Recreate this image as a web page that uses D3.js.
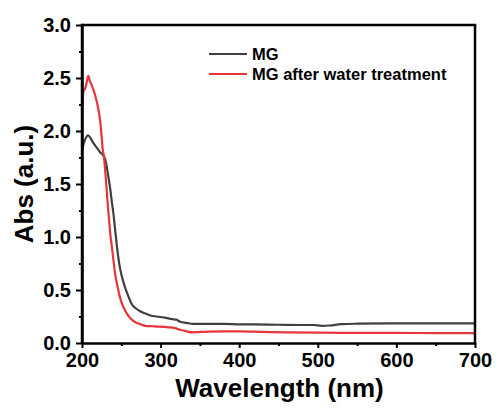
<!DOCTYPE html>
<html><head><meta charset="utf-8">
<script src="https://cdn.jsdelivr.net/npm/d3@7"></script>
<style>
html,body{margin:0;padding:0;background:#fff;}
svg text{font-family:"Liberation Sans",Arial,Helvetica,sans-serif;font-weight:bold;fill:#000;}
</style></head>
<body><svg id="chart" width="498" height="408"></svg>
<script>
const seriesNames = ["MG", "MG after water treatment"];
const seriesColors = ["#404040", "#e8343b"];
const wavelengthMG = [200,203,206,208,211,215,219,223,227,230,232,234,236,238,240,242,244,246,248,251,255,259,263,268,274,280,287,295,305,315,320,325,333,341,360,380,400,420,450,480,495,505,515,530,550,600,650,700];
const absMG = [1.82,1.90,1.95,1.96,1.93,1.88,1.84,1.80,1.77,1.72,1.64,1.55,1.45,1.33,1.22,1.08,0.94,0.82,0.72,0.62,0.52,0.44,0.37,0.33,0.30,0.28,0.26,0.25,0.24,0.225,0.22,0.20,0.19,0.18,0.18,0.18,0.176,0.175,0.172,0.17,0.17,0.162,0.165,0.178,0.182,0.185,0.186,0.186];
const wavelengthWater = [200,202,204,206,208,210,212,214,217,219,221,223,225,226,228,230,232,234,236,238,240,242,245,248,252,257,262,267,275,282,290,299,310,318,325,333,342,360,380,400,430,460,500,550,600,650,700];
const absWater = [2.20,2.38,2.40,2.46,2.52,2.47,2.44,2.40,2.33,2.27,2.20,2.10,1.95,1.85,1.75,1.58,1.38,1.20,1.03,0.91,0.78,0.66,0.54,0.44,0.35,0.28,0.23,0.20,0.175,0.16,0.158,0.155,0.148,0.14,0.125,0.11,0.10,0.108,0.11,0.11,0.105,0.10,0.097,0.096,0.095,0.094,0.093];
const xTicks = [200,300,400,500,600,700];
const xMinorTicks = [250,350,450,550,650];
const yTicks = [0,0.5,1.0,1.5,2.0,2.5,3.0];
const yMinorTicks = [0.25,0.75,1.25,1.75,2.25,2.75];
const xLabel = "Wavelength (nm)";
const yLabel = "Abs (a.u.)";

const svg = d3.select("#chart");
const L = 82, R = 475, T = 25, B = 343;
const x = d3.scaleLinear().domain([200,700]).range([L,R]);
const y = d3.scaleLinear().domain([0,3]).range([B,T]);

const series = [
  {name: seriesNames[0], color: seriesColors[0], pts: wavelengthMG.map((w,i)=>[w,absMG[i]])},
  {name: seriesNames[1], color: seriesColors[1], pts: wavelengthWater.map((w,i)=>[w,absWater[i]])}
];
const line = d3.line().x(d=>x(d[0])).y(d=>y(d[1])).curve(d3.curveMonotoneX);
series.forEach(s=>{
  svg.append("path").attr("d", line(s.pts)).attr("fill","none")
    .attr("stroke", s.color).attr("stroke-width", 2.2).attr("stroke-linejoin","round");
});

// minor ticks
svg.append("g").attr("transform",`translate(0,${B})`)
  .call(d3.axisBottom(x).tickValues(xMinorTicks).tickSize(3).tickFormat(""))
  .call(g=>g.select(".domain").remove())
  .call(g=>g.selectAll("line").attr("stroke","#000").attr("stroke-width",2));
svg.append("g").attr("transform",`translate(${L},0)`)
  .call(d3.axisLeft(y).tickValues(yMinorTicks).tickSize(3).tickFormat(""))
  .call(g=>g.select(".domain").remove())
  .call(g=>g.selectAll("line").attr("stroke","#000").attr("stroke-width",2));

// major axes
const xa = svg.append("g").attr("transform",`translate(0,${B})`)
  .call(d3.axisBottom(x).tickValues(xTicks).tickSize(5).tickPadding(5).tickSizeOuter(0).tickFormat(d3.format("d")));
const ya = svg.append("g").attr("transform",`translate(${L},0)`)
  .call(d3.axisLeft(y).tickValues(yTicks).tickSize(6).tickPadding(5).tickSizeOuter(0).tickFormat(d3.format(".1f")));
[xa,ya].forEach(a=>{
  a.selectAll("line").attr("stroke","#000").attr("stroke-width",2);
  a.select(".domain").attr("stroke","#000").attr("stroke-width",2.5);
  a.selectAll("text").attr("font-size",20).attr("fill","#000");
});

// frame top/right
svg.append("line").attr("x1",L).attr("x2",R+1.25).attr("y1",T).attr("y2",T).attr("stroke","#000").attr("stroke-width",2.5);
svg.append("line").attr("x1",R).attr("x2",R).attr("y1",T).attr("y2",B+1.25).attr("stroke","#000").attr("stroke-width",2.5);
svg.append("line").attr("x1",L).attr("x2",L).attr("y1",T-1.25).attr("y2",B+1.25).attr("stroke","#000").attr("stroke-width",2.5);

// axis titles
svg.append("text").attr("x",(L+R)/2+1).attr("y",397).attr("text-anchor","middle").attr("font-size",26).text(xLabel);
svg.append("text").attr("transform",`translate(33,${(T+B)/2}) rotate(-90)`).attr("text-anchor","middle").attr("font-size",26).text(yLabel);

// legend
const lg = svg.append("g");
series.forEach((s,i)=>{
  const yy = 54 + i*20;
  lg.append("line").attr("x1",209).attr("x2",247).attr("y1",yy).attr("y2",yy).attr("stroke",s.color).attr("stroke-width",2.2);
  lg.append("text").attr("x",252).attr("y",yy+6).attr("font-size",16.5).text(s.name);
});
</script></body></html>
